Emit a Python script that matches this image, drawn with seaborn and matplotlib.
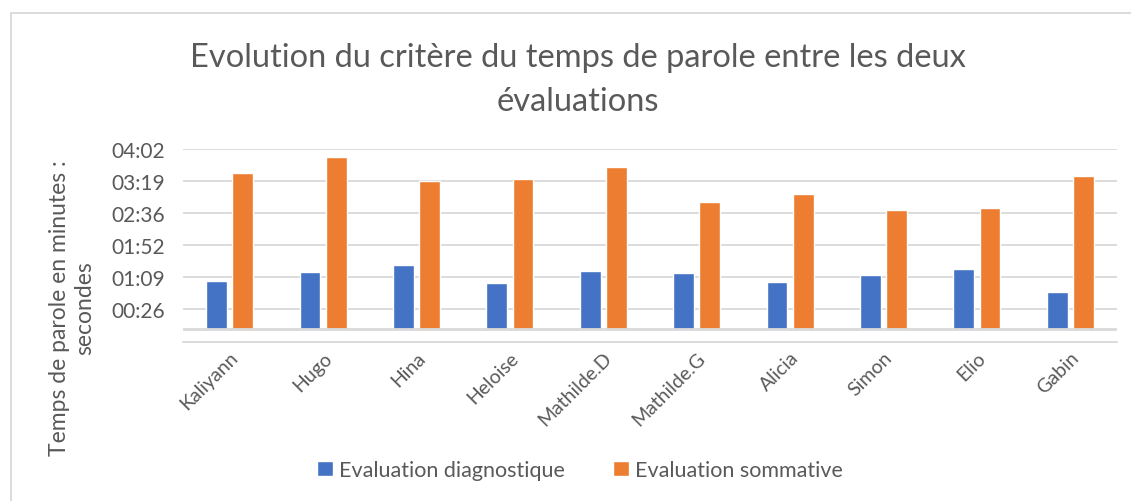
import matplotlib
matplotlib.use("Agg")
import matplotlib.pyplot as plt
from matplotlib.lines import Line2D
import seaborn as sns
import pandas as pd

# data (speaking time in seconds)
eleves = ["Kaliyann", "Hugo", "Hina", "Heloise", "Mathilde.D",
          "Mathilde.G", "Alicia", "Simon", "Elio", "Gabin"]
diagnostique = [64, 76, 86, 62, 77, 75, 63, 72, 80, 50]
sommative = [210, 231, 199, 201, 218, 170, 182, 160, 163, 205]
series = ["Evaluation diagnostique", "Evaluation sommative"]

# Excel time axis: ticks every 0.0005 day (43.2 s)
ytick_vals = [25.92, 69.12, 112.32, 155.52, 198.72, 241.92]
ytick_labels = ["00:26", "01:09", "01:52", "02:36", "03:19", "04:02"]
y_min, y_max = -17.28, 241.92

df = pd.DataFrame({
    "eleve": eleves * 2,
    "temps": diagnostique + sommative,
    "evaluation": [series[0]] * len(eleves) + [series[1]] * len(eleves),
})

sns.set_style("white")
plt.rcParams["font.family"] = ["Lato", "DejaVu Sans"]
text_col = "#595959"
grid_col = "#D9D9D9"

fig = plt.figure(figsize=(11.31, 5.02), dpi=100)
ax = fig.add_axes([183 / 1131, 1 - 342.5 / 502, (1117 - 183) / 1131, (342.5 - 150) / 502])

sns.barplot(data=df, x="eleve", y="temps", hue="evaluation",
            palette=["#4472C4", "#ED7D31"], width=0.56, gap=0.21,
            saturation=1, ax=ax)

ax.set_ylim(y_min, y_max)
ax.set_xlim(-0.5, len(eleves) - 0.5)
ax.set_yticks(ytick_vals)
ax.set_yticklabels(ytick_labels, fontsize=15, color=text_col)
ax.set_xticks(range(len(eleves)))
ax.set_xticklabels(eleves, rotation=45, ha="right", rotation_mode="anchor",
                   fontsize=14, color=text_col)
ax.tick_params(axis="y", length=0, pad=13)
ax.tick_params(axis="x", length=0, pad=5)
ax.set_xlabel("")
ax.set_ylabel("")

# gridlines
for v in ytick_vals:
    ax.axhline(v, color=grid_col, lw=1.3, zorder=0)
ax.axhline(0, color=grid_col, lw=2, zorder=3)
for s in ["top", "right", "left"]:
    ax.spines[s].set_visible(False)
ax.spines["bottom"].set_color(grid_col)
ax.spines["bottom"].set_linewidth(1.3)

handles, labels = ax.get_legend_handles_labels()
ax.get_legend().remove()
fig.legend(handles, labels, loc="center", bbox_to_anchor=(580 / 1131, 1 - 471 / 502),
           ncol=2, frameon=False, fontsize=15.5, labelcolor=text_col,
           handlelength=0.75, handleheight=0.75, handletextpad=0.3, columnspacing=2.2)

fig.text(578 / 1131, 1 - 80 / 502,
         "Evolution du critère du temps de parole entre les deux\névaluations",
         ha="center", va="center", fontsize=23.5, color=text_col, linespacing=1.55)

fig.text(72 / 1131, 1 - 308 / 502, "Temps de parole en minutes :\nsecondes",
         rotation=90, ha="center", va="center", multialignment="center",
         fontsize=16.5, color=text_col, linespacing=1.2)

# chart area border
fig.add_artist(Line2D([11 / 1131, 1], [1 - 14 / 502, 1 - 14 / 502],
                      transform=fig.transFigure, color=grid_col, lw=1.3))
fig.add_artist(Line2D([11 / 1131, 11 / 1131], [0, 1 - 14 / 502],
                      transform=fig.transFigure, color=grid_col, lw=1.3))

fig.savefig("out.png", dpi=100)
